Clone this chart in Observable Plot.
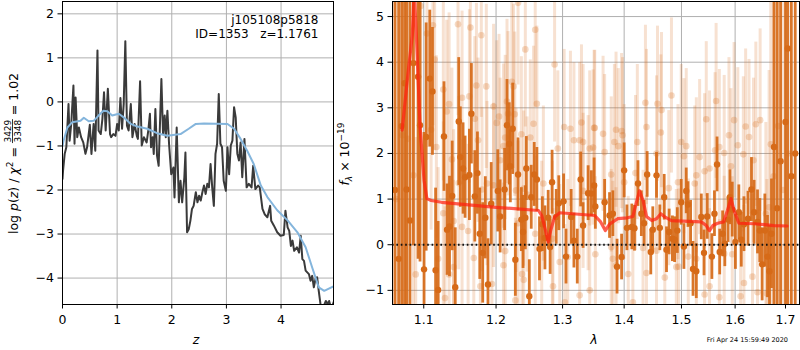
<!DOCTYPE html>
<html>
<head>
<meta charset="utf-8">
<script src="https://cdn.jsdelivr.net/npm/d3@7"></script>
<script src="https://cdn.jsdelivr.net/npm/@observablehq/plot@0.6"></script>
<style>
  html, body { margin: 0; padding: 0; background: white; }
  #wrap { position: relative; width: 800px; height: 350px; overflow: hidden; background: white; }
  #wrap svg { position: absolute; top: 0; overflow: visible; }
</style>
</head>
<body>
<div id="wrap"></div>
<script>
// ---------------- Left panel data: log p(z) ----------------
const pzZ = [0.00,0.01,0.04,0.07,0.11,0.13,0.16,0.20,0.22,0.24,0.27,0.30,0.34,0.38,0.42,0.45,0.50,0.53,0.57,0.60,0.64,0.66,0.70,0.73,0.76,0.79,0.83,0.87,0.89,0.93,0.97,1.00,1.03,1.06,1.09,1.12,1.15,1.18,1.21,1.25,1.28,1.32,1.36,1.38,1.42,1.45,1.49,1.54,1.57,1.60,1.62,1.65,1.67,1.70,1.73,1.76,1.81,1.84,1.87,1.89,1.92,1.95,1.99,2.03,2.05,2.09,2.13,2.16,2.19,2.23,2.25,2.28,2.31,2.34,2.37,2.40,2.44,2.47,2.50,2.53,2.56,2.59,2.62,2.65,2.68,2.71,2.74,2.77,2.80,2.83,2.86,2.89,2.92,2.95,2.99,3.02,3.05,3.08,3.11,3.14,3.17,3.20,3.23,3.26,3.29,3.33,3.37,3.41,3.46,3.49,3.53,3.58,3.61,3.66,3.70,3.75,3.80,3.82,3.87,3.93,3.99,4.05,4.08,4.12,4.15,4.18,4.21,4.24,4.29,4.33,4.36,4.39,4.42,4.45,4.48,4.51,4.54,4.57,4.60,4.63,4.66,4.69,4.73,4.76,4.82,4.85,4.88,4.92,4.97];
const pzLog = [-1.75,-1.56,-1.18,-1.03,-0.05,-0.88,-0.50,0.37,-0.95,0.10,-0.80,-0.58,-0.80,-0.92,-1.18,-1.03,-0.52,-1.18,-0.50,-1.11,1.17,-0.65,-0.73,-0.39,0.22,-0.65,0.30,-0.73,-0.80,-0.73,-0.77,-0.50,-0.65,0.09,-0.61,-0.05,1.38,-0.54,-0.65,-0.05,-0.80,-0.50,-0.77,-0.84,0.47,-0.99,-0.80,-0.92,-0.65,-0.27,-1.03,-0.80,-1.18,-0.16,-1.22,-1.45,0.52,-0.73,-0.31,-0.80,-0.20,-0.95,-1.64,-1.49,-2.17,-0.58,-2.28,-1.79,-2.28,-1.71,-1.15,-2.96,-2.89,-2.70,-2.43,-2.36,-2.05,-2.28,-2.13,-2.24,-2.05,-1.90,-2.09,-1.86,-1.94,-1.41,-1.94,-2.36,-1.18,-0.95,0.18,-0.95,-1.03,-1.79,-2.02,-1.03,-1.64,-0.99,-0.88,-0.12,-0.35,-1.18,-1.33,-0.92,-1.71,-0.84,-1.94,-1.86,-1.94,-1.45,-1.98,-1.90,-1.94,-2.43,-2.55,-2.62,-2.36,-2.70,-2.81,-2.96,-3.04,-3.02,-2.47,-2.85,-2.93,-3.27,-3.15,-3.38,-3.30,-3.42,-3.04,-3.57,-3.61,-3.83,-3.87,-3.91,-4.06,-3.95,-4.21,-4.02,-3.98,-4.29,-4.67,-4.70,-4.52,-4.59,-4.52,-4.70,-4.52];
const priorZ = [0.00,0.02,0.09,0.18,0.33,0.39,0.48,0.57,0.66,0.75,0.82,0.91,1.03,1.12,1.25,1.37,1.55,1.73,1.92,2.16,2.31,2.44,2.59,3.02,3.14,3.26,3.38,3.50,3.63,3.75,3.93,4.12,4.30,4.45,4.57,4.69,4.79,4.97];
const priorLog = [-1.00,-0.88,-0.58,-0.46,-0.43,-0.36,-0.44,-0.43,-0.31,-0.20,-0.21,-0.31,-0.27,-0.35,-0.50,-0.56,-0.61,-0.71,-0.77,-0.73,-0.61,-0.50,-0.49,-0.50,-0.61,-0.84,-1.11,-1.41,-1.90,-2.16,-2.46,-2.69,-2.96,-3.30,-3.76,-4.21,-4.29,-4.18];
const zTicks = [0, 1, 2, 3, 4];
const lpTicks = [-4, -3, -2, -1, 0, 1, 2];
const titleLines = ["j105108p5818", "ID=1353   z=1.1761"];

// ---------------- Right panel data: spectrum ----------------
const darkWave = [1.0625,1.0673,1.0712,1.0749,1.0775,1.0819,1.0864,1.0925,1.0951,1.1004,1.1032,1.1080,1.1116,1.1158,1.1192,1.1271,1.1313,1.1346,1.1383,1.1425,1.1473,1.1495,1.1533,1.1561,1.1621,1.1649,1.1697,1.1734,1.1767,1.1809,1.1846,1.1884,1.1930,1.2025,1.2059,1.2124,1.2159,1.2193,1.2208,1.2243,1.2282,1.2322,1.2371,1.2396,1.2430,1.2445,1.2490,1.2519,1.2564,1.2604,1.2644,1.2688,1.2727,1.2777,1.2807,1.2837,1.2901,1.2941,1.3016,1.3054,1.3135,1.3179,1.3232,1.3286,1.3325,1.3406,1.3459,1.3503,1.3523,1.3675,1.3756,1.3811,1.3881,1.3957,1.4000,1.4047,1.4130,1.4175,1.4235,1.4293,1.4340,1.4393,1.4456,1.4491,1.4556,1.4614,1.4691,1.4732,1.4779,1.4837,1.4877,1.4925,1.4995,1.5044,1.5086,1.5118,1.5165,1.5210,1.5270,1.5362,1.5412,1.5472,1.5559,1.5607,1.5656,1.5706,1.5761,1.5803,1.5864,1.5901,1.5945,1.6006,1.6072,1.6119,1.6171,1.6250,1.6318,1.6370,1.6437,1.6483,1.6529,1.6583,1.6636,1.6676,1.6716,1.6767,1.6830,1.6900,1.7000,1.7046,1.7120,1.7200];
const darkFlux = [1.20,-0.31,2.60,3.54,1.21,0.53,3.98,3.68,2.62,-0.54,2.36,3.64,3.36,-0.56,-0.99,2.37,0.33,0.40,1.07,-0.93,2.70,1.92,1.67,1.48,1.53,2.87,1.06,1.57,0.24,-0.18,0.59,-0.87,0.90,1.18,0.62,1.21,2.62,2.21,1.72,2.54,-0.33,1.54,0.55,0.28,0.59,1.67,-1.13,1.04,1.54,1.43,-0.09,0.45,0.15,0.59,-0.05,1.37,0.61,0.91,0.95,-0.26,0.61,0.09,-0.26,1.43,0.42,1.13,1.12,1.30,0.84,0.93,0.64,0.68,-0.48,-0.27,1.63,0.37,0.39,0.36,1.34,0.68,0.47,1.54,-0.16,0.33,1.52,0.37,1.04,-0.11,0.28,0.13,0.11,0.31,0.93,-0.04,1.18,0.88,0.47,-0.53,-0.58,0.61,-0.18,0.62,-0.26,0.68,1.76,-0.16,0.24,0.02,0.55,1.04,0.77,0.06,0.71,0.11,0.45,0.57,1.21,0.71,0.50,0.31,-0.43,0.31,-0.26,-0.58,0.24,2.14,0.80,1.83,2.69,4.30,1.50,2.00];
const darkErr = [6,6,6,5,5,5,4,4,3,3,2.5,1.5,1.4,1.8,1.5,1.2,1.0,1.1,1.2,1.3,1.4,1.1,1.0,0.9,1.0,1.1,1.0,0.9,1.0,1.1,0.9,1.0,0.9,0.9,0.8,0.9,1.0,0.9,0.8,1.0,0.8,0.8,0.7,0.8,0.7,0.7,0.8,0.7,0.7,0.7,0.7,0.6,0.7,0.6,0.6,0.7,0.6,0.6,0.6,0.6,0.6,0.6,0.6,0.6,0.5,0.6,0.5,0.6,0.5,0.5,0.5,0.5,0.6,0.5,0.6,0.5,0.5,0.5,0.5,0.5,0.5,0.5,0.5,0.5,0.5,0.5,0.5,0.5,0.5,0.5,0.5,0.5,0.5,0.5,0.5,0.5,0.5,0.6,0.6,0.5,0.5,0.5,0.5,0.5,0.6,0.5,0.5,0.5,0.5,0.6,0.6,0.6,0.6,0.6,0.6,0.6,0.7,0.7,0.7,0.7,0.8,0.8,0.9,1.0,1.2,4,6,6,6,6,8,8];

const lightWave = [1.0640,1.0720,1.0792,1.0864,1.0894,1.0960,1.1042,1.1098,1.1122,1.1145,1.1168,1.1192,1.1262,1.1262,1.1285,1.1309,1.1341,1.1341,1.1379,1.1403,1.1403,1.1463,1.1473,1.1519,1.1519,1.1603,1.1621,1.1635,1.1683,1.1697,1.1720,1.1743,1.1776,1.1789,1.1799,1.1860,1.1870,1.1940,1.1964,1.1964,1.2010,1.2043,1.2059,1.2108,1.2108,1.2133,1.2133,1.2159,1.2174,1.2230,1.2255,1.2273,1.2282,1.2292,1.2322,1.2322,1.2371,1.2381,1.2406,1.2406,1.2430,1.2456,1.2505,1.2554,1.2579,1.2579,1.2604,1.2678,1.2703,1.2841,1.2851,1.2876,1.2926,1.2956,1.3025,1.3036,1.3081,1.3124,1.3179,1.3270,1.3270,1.3299,1.3325,1.3325,1.3406,1.3432,1.3432,1.3486,1.3503,1.3513,1.3523,1.3649,1.3675,1.3784,1.3784,1.3811,1.3837,1.3864,1.3864,1.3902,1.3957,1.3973,1.4000,1.4069,1.4148,1.4192,1.4224,1.4322,1.4363,1.4381,1.4381,1.4556,1.4556,1.4573,1.4632,1.4644,1.4702,1.4773,1.4820,1.4907,1.4937,1.4948,1.4995,1.5044,1.5086,1.5123,1.5241,1.5270,1.5270,1.5331,1.5423,1.5423,1.5454,1.5515,1.5515,1.5619,1.5638,1.5699,1.5699,1.5791,1.5791,1.5882,1.5920,1.5945,1.5980,1.6052,1.6106,1.6159,1.6171,1.6204,1.6270,1.6338,1.6358,1.6404,1.6437,1.6489,1.6603,1.6623,1.6668,1.6702,1.6760,1.6850,1.6950,1.7050];
const lightFlux = [1.0,2.4,2.32,1.52,-0.65,5.23,4.63,2.52,4.81,4.06,2.14,-0.31,3.40,0.69,-1.17,2.92,3.08,-0.65,1.87,0.52,-0.49,4.83,1.35,3.22,0.39,0.30,3.25,4.76,-0.29,2.76,3.49,2.29,-0.91,4.59,1.21,3.47,1.34,-0.86,1.30,3.03,2.67,2.81,1.85,2.16,-0.45,2.35,-0.14,3.14,2.87,3.57,3.47,2.86,-1.22,1.19,5.30,0.47,2.42,-0.64,1.23,-0.77,4.28,1.10,2.35,2.65,4.71,0.24,3.09,0.13,1.34,0.13,-0.91,3.95,2.11,-0.38,2.58,-1.26,-0.27,2.54,2.29,2.29,-1.11,2.68,2.25,1.18,1.13,2.11,-1.00,2.13,2.56,2.56,-0.21,2.43,2.03,1.54,-0.05,-0.31,2.25,2.52,-0.45,2.16,2.49,2.40,1.37,-0.64,-1.26,1.57,2.25,-0.07,3.11,2.58,-0.62,2.00,-0.13,3.09,2.46,2.95,-0.72,1.24,3.27,-0.49,1.37,-0.48,2.25,1.94,2.16,-0.26,1.34,1.52,-0.31,1.92,1.61,-1.09,2.75,1.67,-0.91,2.07,3.15,2.14,-1.15,2.01,-0.20,2.40,1.72,-0.21,2.73,2.18,-1.13,1.98,-0.84,2.59,2.36,-0.70,1.85,2.64,-1.04,2.73,0.68,-1.07,0.82,2.20,1.50,2.60,1.20,2.00];
const lightErr = [6,5,4,4,3,3,2.5,2.2,2.2,2.0,2.0,2.0,2.0,2.0,2.0,2.0,2.0,2.0,2.0,2.0,1.9,2.0,1.9,1.9,1.9,1.9,1.9,1.9,1.8,1.8,1.8,1.8,1.8,1.8,1.8,1.8,1.8,1.8,1.8,1.8,1.8,1.8,1.8,1.8,1.8,1.8,1.8,1.8,1.8,1.8,1.8,1.8,1.8,1.8,1.8,1.8,1.7,1.7,1.7,1.7,1.7,1.7,1.7,1.7,1.7,1.7,1.7,1.7,1.7,1.7,1.7,1.7,1.7,1.7,1.7,1.7,1.7,1.7,1.7,1.7,1.7,1.7,1.7,1.7,1.7,1.7,1.7,1.7,1.7,1.7,1.7,1.7,1.7,1.7,1.7,1.7,1.7,1.7,1.7,1.7,1.7,1.7,1.7,1.7,1.7,1.7,1.7,1.7,1.7,1.7,1.7,1.7,1.7,1.7,1.7,1.7,1.7,1.7,1.7,1.7,1.7,1.7,1.7,1.7,1.7,1.7,1.7,1.7,1.7,1.7,1.7,1.7,1.7,1.7,1.7,1.7,1.7,1.7,1.7,1.7,1.7,1.7,1.7,1.7,1.7,1.7,1.7,1.7,1.7,1.7,1.7,1.8,1.8,1.8,1.8,2.0,2.0,2.5,3,5,6,6,6];

const modelWave = [1.0718,1.0790,1.0850,1.0875,1.0905,1.0951,1.1004,1.1042,1.1098,1.1238,1.2000,1.2629,1.2678,1.2737,1.2777,1.2815,1.2876,1.2956,1.3513,1.3610,1.3686,1.3756,1.3892,1.4054,1.4148,1.4208,1.4261,1.4322,1.4381,1.4474,1.4556,1.4632,1.4702,1.4820,1.5362,1.5454,1.5515,1.5577,1.5668,1.5779,1.5853,1.5920,1.5980,1.6072,1.6370,1.6767,1.7033];
const modelFlux = [2.51,3.70,4.60,5.60,4.50,2.58,1.41,1.01,0.97,0.93,0.82,0.75,0.64,0.31,0.06,0.31,0.61,0.70,0.64,0.50,0.31,0.45,0.57,0.59,0.62,0.93,1.18,0.97,0.62,0.53,0.57,0.68,0.61,0.53,0.50,0.42,0.31,0.42,0.47,0.50,0.75,1.01,0.75,0.47,0.46,0.42,0.41];
const lamTicks = [1.1, 1.2, 1.3, 1.4, 1.5, 1.6, 1.7];
const fluxTicks = [-1, 0, 1, 2, 3, 4, 5];
const stamp = "Fri Apr 24 15:59:49 2020";

// ---------------- build tables ----------------
const pz = pzZ.map((z, i) => ({z, v: pzLog[i]}));
const prior = priorZ.map((z, i) => ({z, v: priorLog[i]}));
const dark = darkWave.map((w, i) => ({w, f: darkFlux[i], e: darkErr[i]}));
const light = lightWave.map((w, i) => ({w, f: lightFlux[i], e: lightErr[i]}));
const model = modelWave.map((w, i) => ({w, f: modelFlux[i]}));

const fmt = d => (d < 0 ? "\u2212" + Math.abs(d) : String(d));
const font = "DejaVu Sans";
const grid = {stroke: "#b0b0b0", strokeOpacity: 1, strokeWidth: 1};
const ORANGE = "#d66a18";

const left = Plot.plot({
  width: 340, height: 350,
  marginLeft: 62, marginRight: 7, marginTop: 1, marginBottom: 46,
  style: {fontFamily: font, fontSize: "12.5px", background: "white", color: "black", overflow: "visible"},
  x: {domain: [0, 4.96]},
  y: {domain: [-4.6, 2.28]},
  marks: [
    Plot.gridX(zTicks, grid),
    Plot.gridY(lpTicks, grid),
    Plot.line(pz, {x: "z", y: "v", stroke: "#3a3a3a", strokeWidth: 2, clip: true}),
    Plot.line(prior, {x: "z", y: "v", stroke: "#84b5dc", strokeWidth: 2, clip: true}),
    Plot.frame({stroke: "black", strokeWidth: 1}),
    Plot.axisX(zTicks, {tickSize: 4.5, tickPadding: 6, tickFormat: fmt, label: null, fontSize: 12.5}),
    Plot.axisY(lpTicks, {tickSize: 4.5, tickPadding: 4, tickFormat: fmt, label: null, fontSize: 12.5})
  ]
});

const right = Plot.plot({
  width: 460, height: 350,
  marginLeft: 52, marginRight: 1, marginTop: 1, marginBottom: 46,
  style: {fontFamily: font, fontSize: "12.5px", background: "transparent", color: "black", overflow: "visible"},
  x: {type: "log", domain: [1.0594, 1.7289]},
  y: {domain: [-1.31, 5.33]},
  marks: [
    Plot.frame({fill: "white", stroke: "none"}),
    Plot.gridX(lamTicks, grid),
    Plot.gridY(fluxTicks, grid),
    Plot.ruleX(light, {x: "w", y1: d => d.f - d.e, y2: d => d.f + d.e, stroke: ORANGE, strokeOpacity: 0.2, strokeWidth: 3, clip: true}),
    Plot.dot(light, {x: "w", y: "f", r: 3.3, fill: ORANGE, fillOpacity: 0.25, stroke: "none", clip: true}),
    Plot.ruleX(dark, {x: "w", y1: d => d.f - d.e, y2: d => d.f + d.e, stroke: ORANGE, strokeOpacity: 0.92, strokeWidth: 2.8, clip: true}),
    Plot.dot(dark, {x: "w", y: "f", r: 3.2, fill: ORANGE, stroke: "none", clip: true}),
    Plot.ruleY([0], {stroke: "#111", strokeWidth: 2, strokeDasharray: "1.6,2.8"}),
    Plot.line(model, {x: "w", y: "f", stroke: "#ff2010", strokeOpacity: 0.72, strokeWidth: 3.2, curve: "linear", clip: true}),
    Plot.frame({stroke: "black", strokeWidth: 1}),
    Plot.axisX(lamTicks, {tickSize: 4.5, tickPadding: 6, tickFormat: d => d.toFixed(1), label: null, fontSize: 12.5}),
    Plot.axisY(fluxTicks, {tickSize: 4.5, tickPadding: 4, tickFormat: fmt, label: null, fontSize: 12.5})
  ]
});

const wrap = document.getElementById("wrap");
left.style.left = "0px";
right.style.left = "340px";
wrap.appendChild(left);
wrap.appendChild(right);

// ---------------- text annotations ----------------
const L = d3.select(left), R = d3.select(right);
const ctx = document.createElement("canvas").getContext("2d");
function tw(s, size, italic) {
  ctx.font = `${italic ? "italic " : ""}${size}px "DejaVu Sans"`;
  return ctx.measureText(s).width;
}
function txt(sel, x, y, s, size, anchor, italic) {
  return sel.append("text").attr("x", x).attr("y", y).attr("font-family", font)
    .attr("font-size", size).attr("text-anchor", anchor || "start")
    .attr("font-style", italic ? "italic" : "normal").attr("fill", "black")
    .attr("xml:space", "preserve").style("white-space", "pre").text(s);
}
txt(L, 318.5, 24.3, titleLines[0], 12, "end");
txt(L, 318.5, 37.8, titleLines[1], 12, "end");
txt(L, 196, 344, "z", 12.5, "middle", true);
txt(R, 254, 344, "\u03bb", 12.5, "middle", true);
txt(R, 448, 342, stamp, 6.5, "end");

// label built from pieces laid out along a baseline: [text, size, italic, baselineShift]
function label(sel, pieces, cx, cy, baseX) {
  const g = sel.append("g");
  let x = 0;
  for (const p of pieces) {
    if (p.frac) {
      const wn = tw(p.frac[0], 9), wd = tw(p.frac[1], 9), fw = Math.max(wn, wd) + 1;
      txt(g, x + fw / 2, -6.8, p.frac[0], 9, "middle");
      txt(g, x + fw / 2, 3.4, p.frac[1], 9, "middle");
      g.append("line").attr("x1", x).attr("x2", x + fw).attr("y1", -5.0).attr("y2", -5.0)
        .attr("stroke", "black").attr("stroke-width", 0.8);
      x += fw;
    } else {
      txt(g, x, p.dy || 0, p.t, p.s, "start", p.i);
      x += tw(p.t, p.s, p.i);
    }
  }
  g.attr("transform", `translate(${baseX},${cy + x / 2}) rotate(-90)`);
}
label(L, [
  {t: "log ", s: 12.5}, {t: "p", s: 12.5, i: true}, {t: "(", s: 12.5}, {t: "z", s: 12.5, i: true},
  {t: ") / ", s: 12.5}, {t: "\u03c7", s: 12.5, i: true}, {t: "2", s: 9, dy: -5}, {t: " = ", s: 12.5},
  {frac: ["3429", "3348"]}, {t: " = 1.02", s: 12.5}
], 0, 153.5, 17.5);
label(R, [
  {t: "f", s: 12.5, i: true}, {t: "\u03bb", s: 9, i: true, dy: 3}, {t: " \u00d7 10", s: 12.5},
  {t: "\u221219", s: 9, dy: -5}
], 0, 154, 9);
</script>
</body>
</html>
